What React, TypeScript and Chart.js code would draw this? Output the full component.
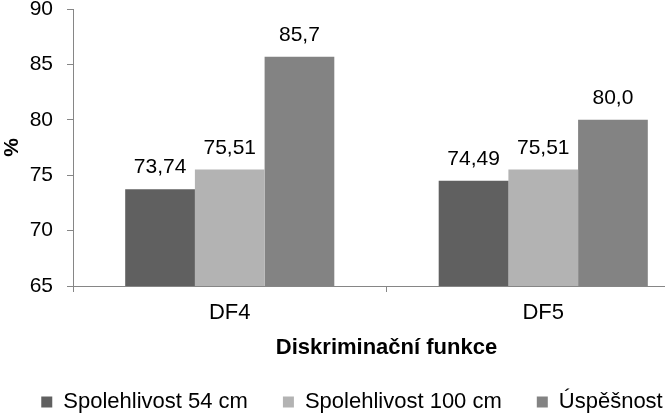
import React, { useEffect, useRef } from "react";
import { Chart, registerables } from "chart.js";

Chart.register(...registerables);

const categories = ["DF4", "DF5"];
const seriesNames = ["Spolehlivost 54 cm", "Spolehlivost 100 cm", "Úspěšnost"];
const spolehlivost54 = [73.74, 74.49];
const spolehlivost100 = [75.51, 75.51];
const uspesnost = [85.7, 80.0];
const labelDecimals = [2, 2, 1];
const seriesColors = ["#606060", "#b3b3b3", "#838383"];
const yMin = 65;
const yMax = 90;
const yStep = 5;
const xTitle = "Diskriminační funkce";
const yTitle = "%";

const FONT = "'Liberation Sans', Arial, sans-serif";

const valueLabels = {
  id: "valueLabels",
  afterDatasetsDraw(chart: any) {
    const ctx = chart.ctx;
    ctx.save();
    ctx.font = `21px ${FONT}`;
    ctx.fillStyle = "#000";
    ctx.textAlign = "center";
    ctx.textBaseline = "alphabetic";
    chart.data.datasets.forEach((ds: any, di: number) => {
      const meta = chart.getDatasetMeta(di);
      meta.data.forEach((el: any, i: number) => {
        const v = ds.data[i] as number;
        const txt = v.toFixed(labelDecimals[di]).replace(".", ",");
        ctx.fillText(txt, el.x, el.y - 16);
      });
    });
    ctx.restore();
  },
};

export default function App() {
  const ref = useRef<HTMLCanvasElement>(null);
  useEffect(() => {
    if (!ref.current) return;
    Chart.defaults.font.family = FONT;
    const chart = new Chart(ref.current, {
      type: "bar",
      data: {
        labels: categories,
        datasets: [spolehlivost54, spolehlivost100, uspesnost].map((d, i) => ({
          label: seriesNames[i],
          data: d,
          backgroundColor: seriesColors[i],
          borderWidth: 0,
          barPercentage: 1,
          categoryPercentage: 0.667,
        })),
      },
      options: {
        animation: false,
        responsive: false,
        layout: { padding: { left: 0, right: 3, top: 0, bottom: 0 } },
        plugins: {
          legend: {
            position: "bottom",
            labels: {
              boxWidth: 11,
              boxHeight: 11,
              padding: 35,
              color: "#000",
              font: { size: 22, family: FONT },
            },
          },
          tooltip: { enabled: false },
        },
        scales: {
          x: {
            grid: {
              display: true,
              drawOnChartArea: false,
              drawTicks: true,
              tickLength: 6,
              color: "#868686",
              offset: true,
            },
            border: { display: true, color: "#868686", width: 1 },
            ticks: { color: "#000", padding: 8, font: { size: 22, family: FONT } },
            title: {
              display: true,
              text: xTitle,
              color: "#000",
              padding: 0,
              font: { size: 22, weight: "bold", family: FONT, lineHeight: 0.75 },
            },
            afterFit: (s: any) => {
              s.height = 70;
              s.paddingLeft = 0;
              s.paddingRight = 7;
            },
          },
          y: {
            min: yMin,
            max: yMax,
            grid: {
              display: true,
              drawOnChartArea: false,
              drawTicks: true,
              tickLength: 6,
              color: "#868686",
            },
            border: { display: true, color: "#868686", width: 1 },
            ticks: {
              stepSize: yStep,
              color: "#000",
              padding: 14,
              font: { size: 21, family: FONT },
            },
            title: {
              display: true,
              text: yTitle,
              color: "#000",
              padding: 0,
              font: { size: 21, weight: "bold", family: FONT },
            },
            afterFit: (s: any) => {
              s.width = 73;
              s.paddingTop = 9;
              s.paddingBottom = 0;
            },
          },
        },
      },
      plugins: [valueLabels],
    } as any);
    return () => chart.destroy();
  }, []);
  return (
    <div
      style={{
        position: "fixed",
        left: 0,
        top: 0,
        width: 665,
        height: 416,
        overflow: "hidden",
        background: "#fff",
      }}
    >
      <canvas ref={ref} width={707} height={423} style={{ width: 707, height: 423, display: "block" }} />
    </div>
  );
}
